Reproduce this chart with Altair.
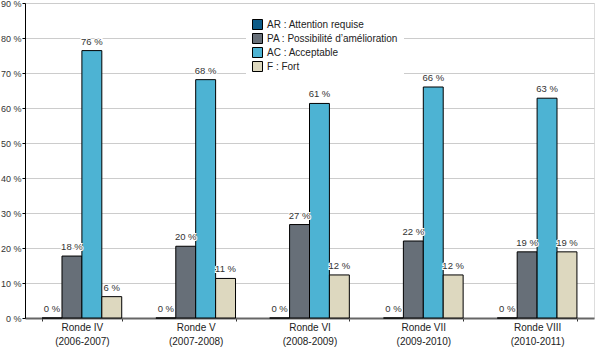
import altair as alt
import pandas as pd

rounds = ["Ronde IV", "Ronde V", "Ronde VI", "Ronde VII", "Ronde VIII"]
periods = ["(2006-2007)", "(2007-2008)", "(2008-2009)", "(2009-2010)", "(2010-2011)"]
categories = ["AR : Attention requise", "PA : Possibilité d\u2019amélioration", "AC : Acceptable", "F : Fort"]
colors = ["#0d5b87", "#676f78", "#4db3d3", "#ddd8bf"]
ar = [0, 0, 0, 0, 0]
pa = [17.7, 20.5, 26.7, 22.0, 18.9]
ac = [76.4, 68.1, 61.3, 66.0, 62.8]
fo = [6.1, 11.3, 12.3, 12.3, 18.9]
y_ticks = [0, 10, 20, 30, 40, 50, 60, 70, 80, 90]

rows = []
for i, (r, p) in enumerate(zip(rounds, periods)):
    for cat, series in zip(categories, [ar, pa, ac, fo]):
        v = series[i]
        rows.append({"group": r + "|" + p, "cat": cat, "value": v,
                     "label": f"{round(v)} %"})
df = pd.DataFrame(rows)
groups = [r + "|" + p for r, p in zip(rounds, periods)]

FONT = "Liberation Sans"

x = alt.X("group:N", sort=groups, title=None,
          scale=alt.Scale(paddingInner=0.3, paddingOuter=0.15),
          axis=alt.Axis(labelAngle=0, labelExpr="split(datum.label, '|')",
                        labelFontSize=10, labelColor="#222", labelLineHeight=14,
                        labelPadding=1, tickBand="extent", ticks=True, tickSize=3,
                        tickColor="#333", domainColor="#666", domainWidth=2,
                        grid=False, labelFont=FONT))
y = alt.Y("value:Q", title=None,
          scale=alt.Scale(domain=[0, 90], nice=False),
          axis=alt.Axis(values=y_ticks, labelExpr="datum.value + ' %'",
                        labelFontSize=9, labelColor="#333", labelFont=FONT,
                        labelOverlap=False, tickSize=3, tickColor="#000",
                        domainColor="#000", gridColor="#cccccc", gridWidth=1,
                        labelPadding=1))
xo = alt.XOffset("cat:N", sort=categories, scale=alt.Scale(domain=categories))

bars = alt.Chart(df).mark_bar(stroke="black", strokeWidth=1).encode(
    x=x, y=y, xOffset=xo,
    color=alt.Color("cat:N", sort=categories,
                    scale=alt.Scale(domain=categories, range=colors),
                    legend=alt.Legend(title=None, orient="none", legendX=221, legendY=10,
                                      fillColor="white", padding=6,
                                      symbolType="square", symbolSize=100,
                                      symbolStrokeColor="black", symbolStrokeWidth=1,
                                      labelFontSize=10, labelColor="#222", labelFont=FONT,
                                      rowPadding=-1, symbolOpacity=1)),
)

halo = alt.Chart(df).mark_text(baseline="bottom", dy=-4, fontSize=9.5, font=FONT,
                               stroke="white", strokeWidth=2, color="white").encode(
    x=x, y=y, xOffset=xo, text="label:N")
text = alt.Chart(df).mark_text(baseline="bottom", dy=-4, fontSize=9.5, font=FONT,
                               color="#333").encode(
    x=x, y=y, xOffset=xo, text="label:N")

chart = alt.layer(bars, halo, text).properties(
    width=569, height=315,
    padding={"left": 25, "top": 3, "right": 1, "bottom": 30},
    autosize=alt.AutoSizeParams(type="none"),
).configure_view(stroke=None).configure(font=FONT)

chart.save("out.html", embed_options={"renderer": "svg", "actions": False})
